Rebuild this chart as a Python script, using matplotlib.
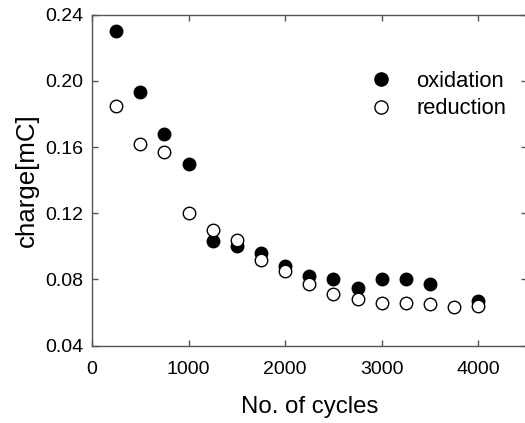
import matplotlib
matplotlib.use("Agg")
import matplotlib.pyplot as plt
from matplotlib.lines import Line2D

plt.rcParams['font.family'] = ['Liberation Sans', 'DejaVu Sans']

ox_cycles = [250, 500, 750, 1000, 1250, 1500, 1750, 2000, 2250, 2500, 2750, 3000, 3250, 3500, 4000]
ox_charge = [0.230, 0.193, 0.168, 0.150, 0.103, 0.100, 0.096, 0.088, 0.082, 0.080, 0.075, 0.080, 0.080, 0.077, 0.067]

red_cycles = [250, 500, 750, 1000, 1250, 1500, 1750, 2000, 2250, 2500, 2750, 3000, 3250, 3500, 3750, 4000]
red_charge = [0.185, 0.162, 0.157, 0.120, 0.110, 0.104, 0.092, 0.085, 0.077, 0.071, 0.068, 0.066, 0.066, 0.065, 0.063, 0.064]

xticks = [0, 1000, 2000, 3000, 4000]
yticks = [0.04, 0.08, 0.12, 0.16, 0.20, 0.24]
ytick_labels = ['0.04', '0.08', '0.12', '0.16', '0.20', '0.24']

fig = plt.figure(figsize=(5.25, 4.23), dpi=100)
ax = fig.add_axes([0.1752, 0.1832, 0.828, 0.782])

ax.plot(ox_cycles, ox_charge, 'o', color='black', markersize=9,
        markeredgewidth=1.0, linestyle='none', zorder=3)
ax.plot(red_cycles, red_charge, 'o', markerfacecolor='white', markeredgecolor='black',
        markersize=9, markeredgewidth=1.0, linestyle='none', zorder=4)

ax.set_xlim(0, 4500)
ax.set_ylim(0.04, 0.24)
ax.set_xticks(xticks)
ax.set_xticklabels([str(t) for t in xticks])
ax.set_yticks(yticks)
ax.set_yticklabels(ytick_labels)

for s in ax.spines.values():
    s.set_color('#555555')
    s.set_linewidth(1.0)
ax.tick_params(direction='in', length=4, width=1, color='#555555', top=True, right=True,
               labelsize=14)
ax.tick_params(axis='y', pad=6)
ax.tick_params(axis='x', pad=11)

ax.set_xlabel('No. of cycles', fontsize=17.3, labelpad=13)
ax.set_ylabel('charge[mC]', fontsize=18.6, labelpad=5)

handles = [
    Line2D([], [], marker='o', linestyle='none', color='black', markersize=9.5),
    Line2D([], [], marker='o', linestyle='none', markerfacecolor='white',
           markeredgecolor='black', markersize=9.5, markeredgewidth=1.0),
]
ax.legend(handles, ['oxidation', 'reduction'], loc='upper left',
          bbox_to_anchor=(0.589, 0.89), frameon=False, fontsize=15.8,
          handletextpad=1.0, labelspacing=0.3, handlelength=1.2)

fig.savefig('out.png', dpi=100)
